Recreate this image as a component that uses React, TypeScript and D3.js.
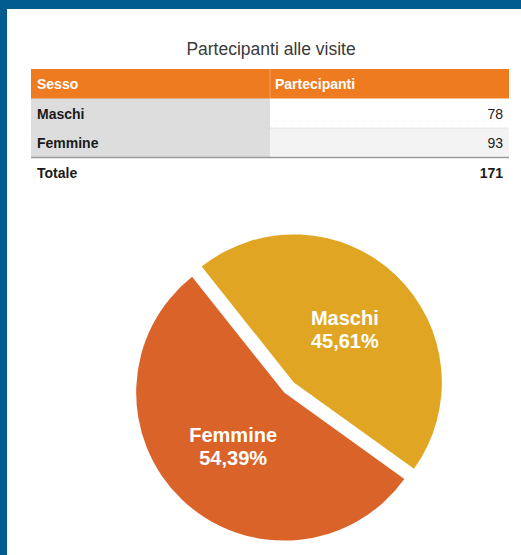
import React from "react";
import * as d3 from "d3";

const title = "Partecipanti alle visite";
const headers = ["Sesso", "Partecipanti"];
const categories = ["Maschi", "Femmine"];
const values = [78, 93];
const totalLabel = "Totale";
const sliceColors = ["#E0A623", "#DA6329"];

const W = 521;
const H = 555;

export default function App() {
  const total = d3.sum(values);
  const rowKeys = ["__header", ...categories, "__total"];
  const y = d3.scaleBand<string>().domain(rowKeys).range([69, 187]);
  const tableLeft = 31;
  const tableRight = 509;
  const colDiv = 270;

  const pie = d3
    .pie<number>()
    .sort(null)
    .startAngle((-38.5 * Math.PI) / 180)
    .endAngle((-38.5 * Math.PI) / 180 + 2 * Math.PI);
  const arcs = pie(values);
  const R = 148;
  const arcGen = d3.arc<d3.PieArcDatum<number>>().innerRadius(0).outerRadius(R);
  const labelArc = d3.arc<d3.PieArcDatum<number>>().innerRadius(R * 0.5).outerRadius(R * 0.5);
  const cx = 289;
  const cy = 387.5;
  const explode = 7;
  const fmt = (v: number) => ((v / total) * 100).toFixed(2).replace(".", ",") + "%";

  const font = "'Liberation Sans', Arial, Helvetica, sans-serif";

  return (
    <svg
      width={W}
      height={H}
      style={{ position: "absolute", left: 0, top: 0, display: "block" }}
      fontFamily={font}
    >
      <rect x={0} y={0} width={W} height={H} fill="#ffffff" />
      <rect x={0} y={0} width={W} height={9} fill="#035C90" />
      <rect x={0} y={0} width={7} height={H} fill="#035C90" />

      <text x={271} y={55} textAnchor="middle" fontSize={17.5} fill="#3a3a3a">
        {title}
      </text>

      {/* table header */}
      <rect
        x={tableLeft}
        y={y("__header")!}
        width={tableRight - tableLeft}
        height={y.bandwidth() + 0.5}
        fill="#EE7B20"
      />
      <line
        x1={colDiv}
        x2={colDiv}
        y1={y("__header")!}
        y2={y("__header")! + y.bandwidth()}
        stroke="#F4A060"
        strokeWidth={1}
      />
      <text x={37} y={y("__header")! + y.bandwidth() / 2 + 5.5} fill="#fff" fontSize={14} fontWeight="bold">
        {headers[0]}
      </text>
      <text x={275} y={y("__header")! + y.bandwidth() / 2 + 5.5} fill="#fff" fontSize={14} fontWeight="bold">
        {headers[1]}
      </text>

      {categories.map((c, i) => {
        const ry = y(c)!;
        return (
          <g key={c}>
            <rect x={tableLeft} y={ry} width={colDiv - tableLeft} height={y.bandwidth()} fill="#DDDDDD" />
            <rect
              x={colDiv}
              y={ry}
              width={tableRight - colDiv}
              height={y.bandwidth()}
              fill={i % 2 === 0 ? "#FFFFFF" : "#F3F3F3"}
            />
            <text x={37} y={ry + y.bandwidth() / 2 + 5.5} fontSize={14} fontWeight="bold" fill="#1a1a1a">
              {c}
            </text>
            <text x={503} y={ry + y.bandwidth() / 2 + 5.5} fontSize={14} textAnchor="end" fill="#222">
              {values[i]}
            </text>
          </g>
        );
      })}
      <line
        x1={tableLeft}
        x2={tableRight}
        y1={y(categories[1])!}
        y2={y(categories[1])!}
        stroke="#D6D6D6"
        strokeDasharray="1,1"
      />
      <line
        x1={tableLeft}
        x2={tableRight}
        y1={y("__total")!}
        y2={y("__total")!}
        stroke="#9A9A9A"
        strokeWidth={1.5}
      />
      <text x={37} y={y("__total")! + y.bandwidth() / 2 + 5.5} fontSize={14} fontWeight="bold" fill="#1a1a1a">
        {totalLabel}
      </text>
      <text
        x={503}
        y={y("__total")! + y.bandwidth() / 2 + 5.5}
        fontSize={14}
        fontWeight="bold"
        textAnchor="end"
        fill="#1a1a1a"
      >
        {total}
      </text>

      {/* pie */}
      {arcs.map((a, i) => {
        const mid = (a.startAngle + a.endAngle) / 2;
        const dx = Math.sin(mid) * explode;
        const dy = -Math.cos(mid) * explode;
        const [lx, ly] = labelArc.centroid(a);
        return (
          <g key={categories[i]} transform={`translate(${cx + dx},${cy + dy})`}>
            <path d={arcGen(a) || ""} fill={sliceColors[i]} />
            <text x={lx} y={ly - 4} textAnchor="middle" fontSize={20} fontWeight="bold" fill="#fff">
              {categories[i]}
            </text>
            <text x={lx} y={ly + 19} textAnchor="middle" fontSize={20} fontWeight="bold" fill="#fff">
              {fmt(values[i])}
            </text>
          </g>
        );
      })}
    </svg>
  );
}
